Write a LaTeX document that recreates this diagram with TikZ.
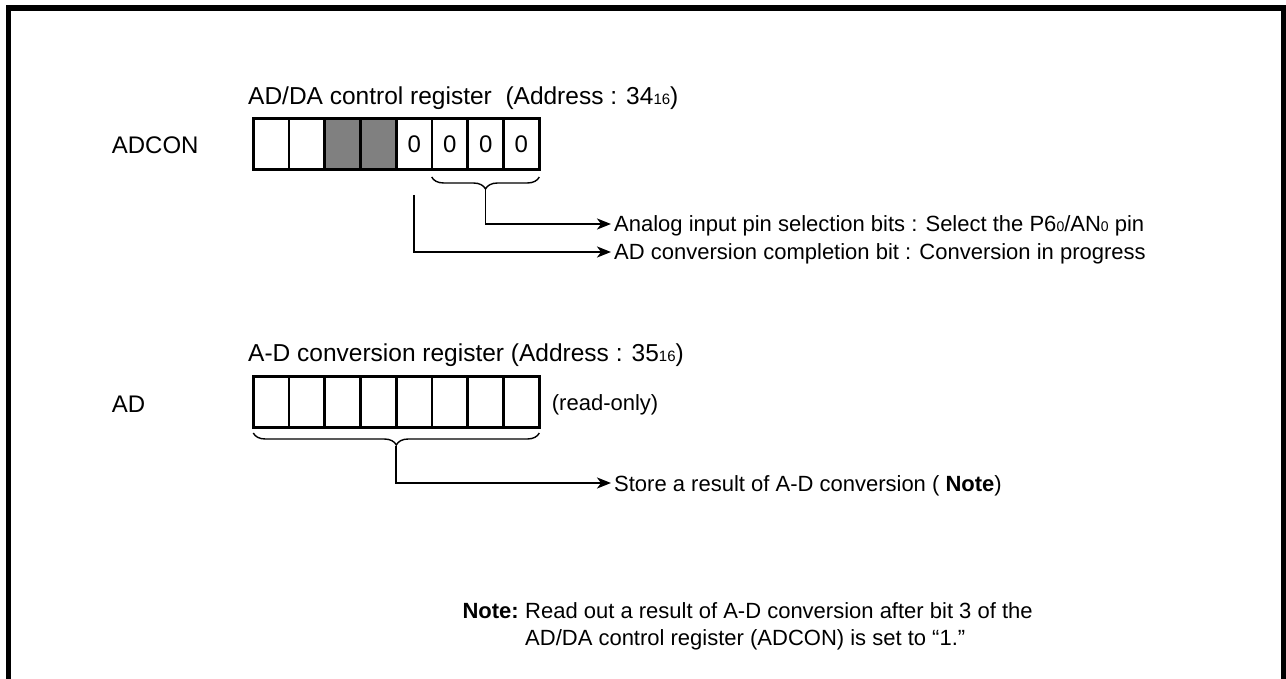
\documentclass[tikz,border=0pt]{standalone}
\usepackage{fontspec}
\setmainfont{Liberation Sans}
\usetikzlibrary{decorations.pathreplacing,arrows.meta,calc}
\definecolor{regGray}{HTML}{808080}
\newcommand\lowsub[1]{{\fontsize{15}{15}\selectfont #1}}
\newcommand\pinsub[1]{{\fontsize{14}{14}\selectfont #1}}
\begin{document}
\begin{tikzpicture}[x=1pt,y=-1pt,
  cell/.style={draw, line width=2.8pt, minimum width=35.75pt, minimum height=51pt, inner sep=0pt, outer sep=0pt, font=\fontsize{24}{26}\selectfont},
  graycell/.style={cell, fill=regGray},
  lbl/.style={inner sep=0pt, anchor=base west, font=\fontsize{24}{28}\selectfont},
  ttl/.style={inner sep=0pt, anchor=base west, font=\fontsize{24.5}{28}\selectfont},
  desc/.style={inner sep=0pt, anchor=base west, font=\fontsize{22}{26}\selectfont},
  notetxt/.style={inner sep=0pt, font=\fontsize{22}{26}\selectfont},
  conn/.style={line width=1.8pt, -{Stealth[length=14pt,width=11pt,inset=4pt]}},
  brc/.style={line width=1.4pt, decorate, decoration={brace, mirror, amplitude=12pt}},
]
\clip (0,0) rectangle (1286,679);
\draw[line width=5.5pt] (8.5,8) rectangle (1283.5,720);

% ADCON register
\node[ttl] (title1) at (248,105) {AD/DA control register\ \ (Address : 34\lowsub{16})};
\node[lbl] (adcon) at (111.7,154) {ADCON};
\node[cell] (a1) at (271.2,143.8) {};
\node[cell] (a2) at (306.9,143.8) {};
\node[graycell] (a3) at (342.7,143.8) {};
\node[graycell] (a4) at (378.4,143.8) {};
\node[cell] (a5) at (414.2,143.8) {0};
\node[cell] (a6) at (449.9,143.8) {0};
\node[cell] (a7) at (485.7,143.8) {0};
\node[cell] (a8) at (521.4,143.8) {0};

\draw[brc] (431.7,177) -- (539.3,177);
\coordinate (b1) at (485.5,190);
\coordinate (b3) at (414.2,195);
\node[desc] (d1) at (614,232) {Analog input pin selection bits : Select the P6\pinsub{0}/AN\pinsub{0} pin};
\node[desc] (d2) at (614,260) {AD conversion completion bit : Conversion in progress};
\draw[conn] (b1) |- ($(d1.base west)+(-3,-8)$);
\draw[conn] (b3) |- ($(d2.base west)+(-3,-8)$);

% AD register
\node[ttl] (title2) at (248,361) {A-D conversion register (Address : 35\lowsub{16})};
\node[lbl] (adl) at (111.7,412) {AD};
\node[cell] (c1) at (271.2,402) {};
\node[cell] (c2) at (306.9,402) {};
\node[cell] (c3) at (342.7,402) {};
\node[cell] (c4) at (378.4,402) {};
\node[cell] (c5) at (414.2,402) {};
\node[cell] (c6) at (449.9,402) {};
\node[cell] (c7) at (485.7,402) {};
\node[cell] (c8) at (521.4,402) {};
\node[desc] (ro) at (551.7,410) {(read-only)};

\draw[brc] (253.3,433) -- (539.3,433);
\coordinate (b2) at (396.3,446);
\node[desc] (d3) at (614,491) {Store a result of A-D conversion ( \textbf{Note})};
\draw[conn] (b2) |- ($(d3.base west)+(-3,-8)$);

% Note
\node[notetxt, anchor=base east] (nt) at (519,618) {\textbf{Note:}};
\node[notetxt, anchor=base west] (n1) at (525,618) {Read out a result of A-D conversion after bit 3 of the};
\node[notetxt, anchor=base west] (n2) at (525,645) {AD/DA control register (ADCON) is set to “1.”};
\end{tikzpicture}
\end{document}
